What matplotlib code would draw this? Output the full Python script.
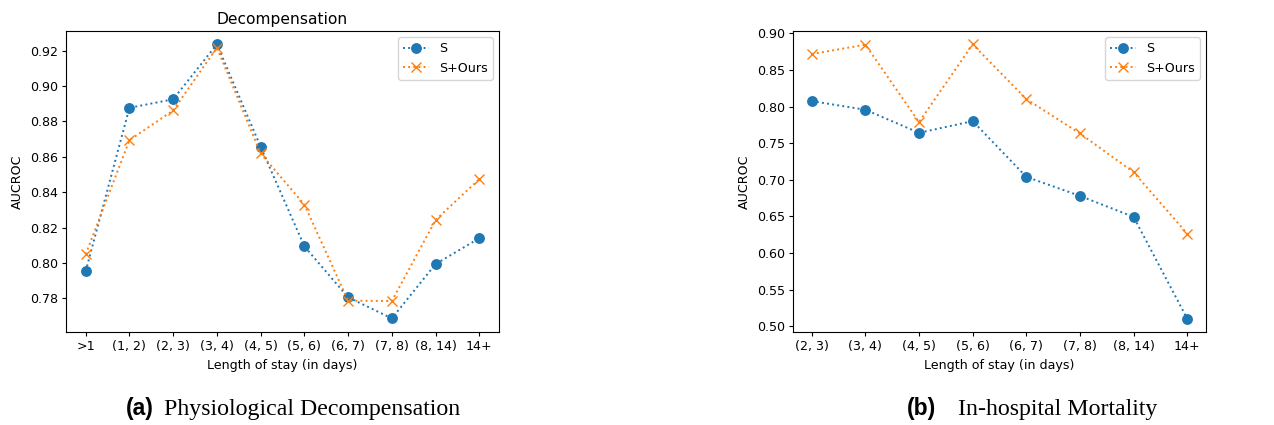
import matplotlib
matplotlib.use("Agg")
import matplotlib.pyplot as plt

# Data
cats_a = [">1", "(1, 2)", "(2, 3)", "(3, 4)", "(4, 5)", "(5, 6)", "(6, 7)", "(7, 8)", "(8, 14)", "14+"]
s_a = [0.7953, 0.8877, 0.8925, 0.9236, 0.8657, 0.8094, 0.7806, 0.7687, 0.7994, 0.8140]
ours_a = [0.8049, 0.8694, 0.8862, 0.9217, 0.8619, 0.8330, 0.7787, 0.7785, 0.8243, 0.8474]

cats_b = ["(2, 3)", "(3, 4)", "(4, 5)", "(5, 6)", "(6, 7)", "(7, 8)", "(8, 14)", "14+"]
s_b = [0.8075, 0.7957, 0.7642, 0.7802, 0.7041, 0.6781, 0.6494, 0.5105]
ours_b = [0.8718, 0.8845, 0.7788, 0.8850, 0.8103, 0.7633, 0.7105, 0.6266]

W, H = 1274, 425
fig = plt.figure(figsize=(W / 100, H / 100), dpi=100)
plt.rcParams['font.family'] = ['DejaVu Sans']
fs = 9.1

def make(ax, cats, s, o, yticks, title=None):
    x = list(range(len(cats)))
    ax.plot(x, s, linestyle=':', marker='o', color='#1f77b4', markersize=6.8, linewidth=1.4, label='S')
    ax.plot(x, o, linestyle=':', marker='x', color='#ff7f0e', markersize=6.8, linewidth=1.4, label='S+Ours')
    ax.set_xticks(x)
    ax.set_xticklabels(cats, fontsize=fs)
    ax.set_yticks(yticks)
    ax.set_yticklabels([f"{v:.2f}" for v in yticks], fontsize=fs)
    ax.set_xlabel("Length of stay (in days)", fontsize=fs, labelpad=4)
    ax.set_ylabel("AUCROC", fontsize=fs, labelpad=4)
    ax.tick_params(length=3, width=0.8, pad=3)
    for sp in ax.spines.values():
        sp.set_linewidth(0.8)
    if title:
        ax.set_title(title, fontsize=11.2, pad=5)
    ax.legend(loc='upper right', fontsize=fs)

ax1 = fig.add_axes([66 / W, (H - 332) / H, 433 / W, 301 / H])
make(ax1, cats_a, s_a, ours_a, [0.78, 0.80, 0.82, 0.84, 0.86, 0.88, 0.90, 0.92], "Decompensation")
ax1.set_ylim(0.7610, 0.9311)

ax2 = fig.add_axes([793 / W, (H - 332) / H, 413 / W, 301 / H])
make(ax2, cats_b, s_b, ours_b, [0.50, 0.55, 0.60, 0.65, 0.70, 0.75, 0.80, 0.85, 0.90])
ax2.set_ylim(0.4923, 0.9032)

cy = 1 - 409 / H
fig.text(126 / W, cy, "(a)", fontsize=16.5, fontweight='bold', family='Liberation Sans', ha='left', va='center')
fig.text(164 / W, cy, "Physiological Decompensation", fontsize=17.2, family='Liberation Serif', ha='left', va='center')
fig.text(907 / W, cy, "(b)", fontsize=16.5, fontweight='bold', family='Liberation Sans', ha='left', va='center')
fig.text(958 / W, cy, "In-hospital Mortality", fontsize=17.2, family='Liberation Serif', ha='left', va='center')

fig.savefig("out.png", dpi=100)
